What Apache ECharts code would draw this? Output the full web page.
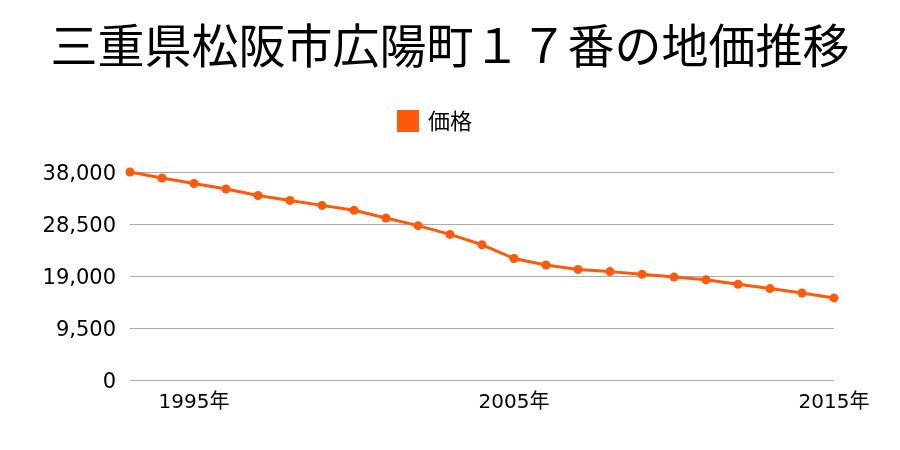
<!DOCTYPE html>
<html><head><meta charset="utf-8">
<script src="https://cdn.jsdelivr.net/npm/echarts@6/dist/echarts.min.js"></script>
<style>html,body{margin:0;padding:0;background:#fff}#c{width:900px;height:450px}</style>
</head><body><div id="c"></div>
<script>
const years = [1993,1994,1995,1996,1997,1998,1999,2000,2001,2002,2003,2004,2005,2006,2007,2008,2009,2010,2011,2012,2013,2014,2015];
const prices = [38000,36900,35900,34900,33700,32800,31900,31000,29600,28200,26600,24700,22200,21000,20200,19800,19300,18800,18300,17500,16700,15900,15000];
const yTicks = [0,9500,19000,28500,38000];
const labelYears = [1995,2005,2015];
const seriesName = '価格';
const titleText = '三重県松阪市広陽町１７番の地価推移';
const F = '"Noto Sans CJK JP", "Noto Sans", sans-serif';
const NF = '"DejaVu Sans", "Noto Sans CJK JP", sans-serif';
const chart = echarts.init(document.getElementById('c'), null, {renderer:'canvas'});
chart.setOption({
  animation:false,
  title:{text:titleText,left:'center',top:17,textStyle:{fontFamily:F,fontSize:47,fontWeight:'normal',color:'#000'}},
  legend:{data:[seriesName],top:105,left:392,itemWidth:22,itemHeight:22,itemGap:10,icon:'rect',
    textStyle:{fontFamily:F,fontSize:22,color:'#000',padding:[0,0,0,4]}},
  grid:{left:130,right:66,top:172,bottom:70,containLabel:false},
  xAxis:{type:'category',boundaryGap:false,data:years.map(String),
    axisLine:{show:false},axisTick:{show:false},splitLine:{show:false},
    axisLabel:{interval:function(i,v){return labelYears.indexOf(+v)>=0;},formatter:v=>v+'年',
      fontFamily:NF,fontSize:20,color:'#000',margin:13}},
  yAxis:{type:'value',min:yTicks[0],max:yTicks[yTicks.length-1],interval:yTicks[1]-yTicks[0],
    axisLine:{show:false},axisTick:{show:false},
    splitLine:{lineStyle:{color:'#aaaaaa',width:1}},
    axisLabel:{margin:14,
      formatter:v=>'{a|'+v.toLocaleString('en-US')+'}',
      rich:{a:{fontFamily:NF,fontSize:21,color:'#000',padding:[5,0,0,0]}}}},
  series:[{name:seriesName,type:'line',data:prices,color:'#ff5a0a',
    symbol:'circle',symbolSize:9,lineStyle:{width:3,color:'#ff5a0a'},itemStyle:{color:'#ff5a0a'}}]
});
</script></body></html>
